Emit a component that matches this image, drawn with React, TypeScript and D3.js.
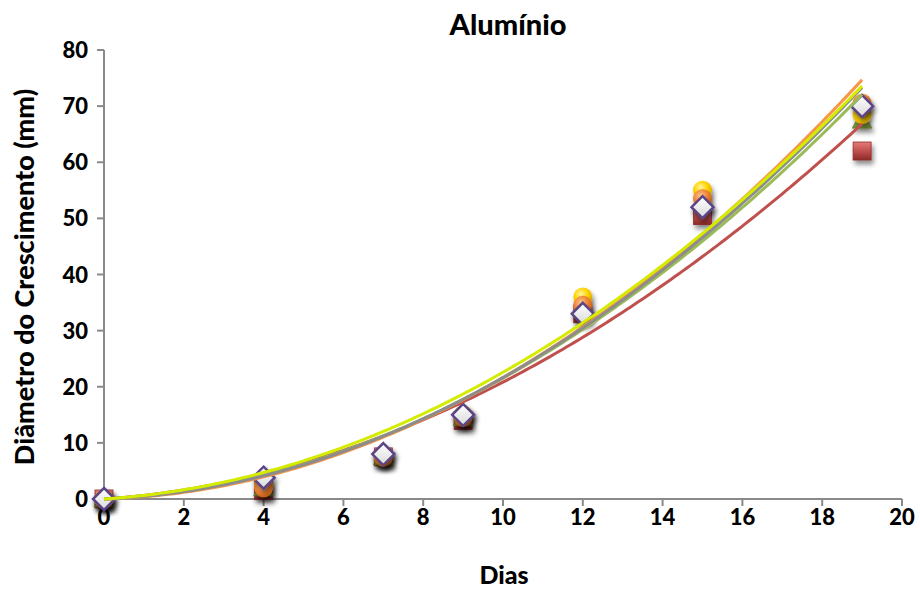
import React from "react";
import * as d3 from "d3";

const days = [0, 4, 7, 9, 12, 15, 19];
const redSquare = [0, 1.5, 7.5, 14, 33, 50.5, 62];
const greenTriangle = [0, 2, 7.5, 14.5, 34, 53, 67.5];
const yellowCircle = [0, 2.5, 7.5, 15, 36, 55, 68.5];
const orangeCircle = [0, 2, 7.5, 14.5, 34.5, 53.5, 70.5];
const diamond = [0, 3.8, 8, 15, 33, 52, 70];
const xTicks = [0, 2, 4, 6, 8, 10, 12, 14, 16, 18, 20];
const yTicks = [0, 10, 20, 30, 40, 50, 60, 70, 80];

const series = [
  { name: "s1", values: redSquare, marker: "square", fill: "url(#gRed)", line: "#C0504D" },
  { name: "s2", values: greenTriangle, marker: "triangle", fill: "url(#gGreen)", line: "#9BBB59" },
  { name: "s3", values: yellowCircle, marker: "circle", fill: "url(#gYellow)", line: "#D4EC00" },
  { name: "s4", values: orangeCircle, marker: "circle", fill: "url(#gOrange)", line: "#F79646" },
  { name: "s5", values: diamond, marker: "diamond", fill: "url(#gWhite)", line: "#8C8C8C" },
];
const lineOrder = [0, 1, 3, 4, 2];

function fitQuad(xs: number[], ys: number[]) {
  // least squares y = a x^2 + b x (intercept 0)
  let s4 = 0, s3 = 0, s2 = 0, sx2y = 0, sxy = 0;
  xs.forEach((x, i) => {
    s4 += x ** 4; s3 += x ** 3; s2 += x ** 2;
    sx2y += x * x * ys[i]; sxy += x * ys[i];
  });
  const det = s4 * s2 - s3 * s3;
  const a = (sx2y * s2 - s3 * sxy) / det;
  const b = (s4 * sxy - s3 * sx2y) / det;
  return (x: number) => a * x * x + b * x;
}

export default function App() {
  const W = 920, H = 591;
  const x = d3.scaleLinear().domain([0, 20]).range([104, 902]);
  const y = d3.scaleLinear().domain([0, 80]).range([499, 50]);
  const font = "Lato, 'Open Sans', sans-serif";
  const axisColor = "#8A8A8A";
  const xs = d3.range(0, 19.001, 0.1);

  const marker = (s: any, xv: number, yv: number, key: string) => {
    const cx = x(xv), cy = y(yv);
    if (s.marker === "square")
      return <rect key={key} x={cx - 9} y={cy - 9} width={18} height={18} fill={s.fill} stroke="#8E2B28" strokeWidth={0.8} filter="url(#shadow)" />;
    if (s.marker === "triangle")
      return <path key={key} d={`M${cx},${cy - 10}L${cx + 10},${cy + 8}L${cx - 10},${cy + 8}Z`} fill={s.fill} stroke="#6F8A35" strokeWidth={0.8} filter="url(#shadow)" />;
    if (s.marker === "circle")
      return <circle key={key} cx={cx} cy={cy} r={9.5} fill={s.fill} filter="url(#shadow)" />;
    return <path key={key} d={`M${cx},${cy - 11}L${cx + 11},${cy}L${cx},${cy + 11}L${cx - 11},${cy}Z`} fill={s.fill} stroke="#5B4486" strokeWidth={2.5} filter="url(#shadow)" />;
  };

  return (
    <svg width={W} height={H} style={{ position: "absolute", left: 0, top: 0, background: "#fff" }}>
      <defs>
        <filter id="shadow" x="-50%" y="-50%" width="200%" height="200%">
          <feDropShadow dx={2} dy={4} stdDeviation={2.5} floodColor="#000" floodOpacity={0.45} />
        </filter>
        <linearGradient id="gRed" x1="0" y1="0" x2="0" y2="1">
          <stop offset="0" stopColor="#E57C79" />
          <stop offset="0.5" stopColor="#C0504D" />
          <stop offset="1" stopColor="#8E2B28" />
        </linearGradient>
        <linearGradient id="gGreen" x1="0" y1="0" x2="0" y2="1">
          <stop offset="0" stopColor="#C3DA8E" />
          <stop offset="0.5" stopColor="#9BBB59" />
          <stop offset="1" stopColor="#6F8A35" />
        </linearGradient>
        <radialGradient id="gYellow" cx="0.4" cy="0.35" r="0.7">
          <stop offset="0" stopColor="#FFF5A0" />
          <stop offset="0.5" stopColor="#FFD400" />
          <stop offset="1" stopColor="#D9A300" />
        </radialGradient>
        <radialGradient id="gOrange" cx="0.4" cy="0.35" r="0.7">
          <stop offset="0" stopColor="#FCC48E" />
          <stop offset="0.5" stopColor="#F0883A" />
          <stop offset="1" stopColor="#C55A11" />
        </radialGradient>
        <linearGradient id="gWhite" x1="0" y1="0" x2="0" y2="1">
          <stop offset="0" stopColor="#FFFFFF" />
          <stop offset="1" stopColor="#DADADA" />
        </linearGradient>
      </defs>

      <text x={508} y={35} textAnchor="middle" fontFamily={font} fontWeight={900} fontSize={29} fill="#000">Alumínio</text>

      {/* axes */}
      <line x1={104} y1={y(80)} x2={104} y2={y(0)} stroke={axisColor} strokeWidth={2} />
      <line x1={104} y1={y(0)} x2={x(20)} y2={y(0)} stroke={axisColor} strokeWidth={2} />
      {yTicks.map((t) => (
        <g key={"y" + t}>
          <line x1={97} x2={104} y1={y(t)} y2={y(t)} stroke={axisColor} strokeWidth={2} />
          <text x={88} y={y(t) + 8} textAnchor="end" fontFamily={font} fontWeight={900} fontSize={22}>{t}</text>
        </g>
      ))}
      {xTicks.map((t) => (
        <g key={"x" + t}>
          <line x1={x(t)} x2={x(t)} y1={y(0)} y2={y(0) + 7} stroke={axisColor} strokeWidth={2} />
          <text x={x(t)} y={y(0) + 26} textAnchor="middle" fontFamily={font} fontWeight={900} fontSize={22}>{t}</text>
        </g>
      ))}
      <text x={504} y={584} textAnchor="middle" fontFamily={font} fontWeight={900} fontSize={25}>Dias</text>
      <text transform={`translate(34,277) rotate(-90)`} textAnchor="middle" fontFamily={font} fontWeight={900} fontSize={27}>Diâmetro do Crescimento (mm)</text>

      {/* markers */}
      {series.map((s) => (
        <g key={s.name}>{days.map((d, i) => marker(s, d, s.values[i], s.name + i))}</g>
      ))}

      {/* trendlines */}
      {lineOrder.map((idx) => {
        const s = series[idx];
        const f = fitQuad(days, s.values);
        const path = d3.line<number>().x((v) => x(v)).y((v) => y(f(v)))(xs) || "";
        return <path key={"t" + s.name} d={path} fill="none" stroke={s.line} strokeWidth={3} />;
      })}
    </svg>
  );
}
